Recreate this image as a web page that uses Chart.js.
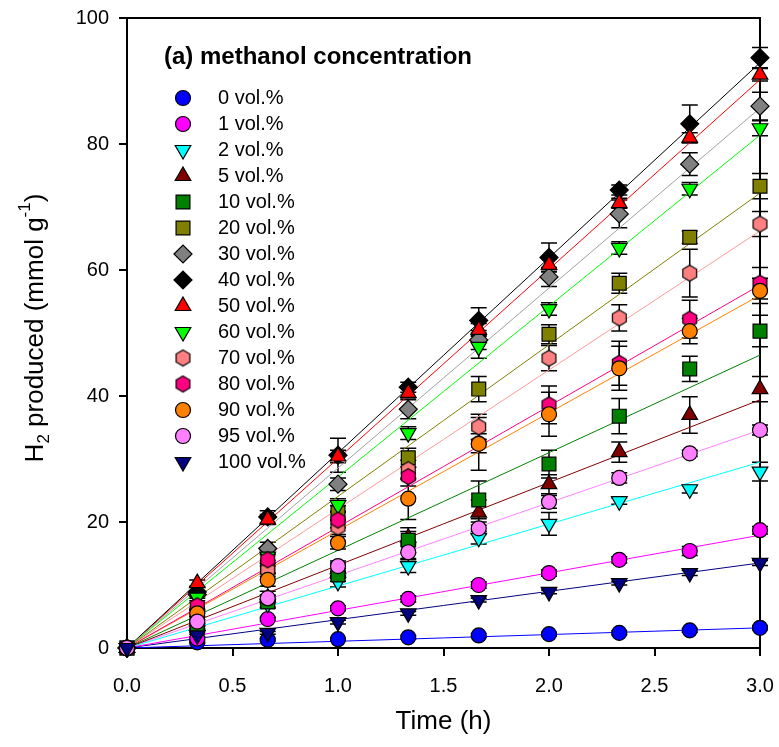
<!DOCTYPE html>
<html>
<head>
<meta charset="utf-8">
<script src="https://cdn.jsdelivr.net/npm/chart.js@4.4.0/dist/chart.umd.min.js"></script>
<style>
  body { margin: 0; background: #fff; }
  #wrap { width: 779px; height: 747px; }
</style>
</head>
<body>
<div id="wrap"><canvas id="myChart" width="779" height="747"></canvas></div>
<script>
const FONT = '"Liberation Sans", Arial, sans-serif';

// time (h)
const times = [0, 0.333, 0.667, 1, 1.333, 1.667, 2, 2.333, 2.667, 3];

const labels = ['0 vol.%', '1 vol.%', '2 vol.%', '5 vol.%', '10 vol.%', '20 vol.%', '30 vol.%',
  '40 vol.%', '50 vol.%', '60 vol.%', '70 vol.%', '80 vol.%', '90 vol.%', '95 vol.%', '100 vol.%'];

// H2 produced (mmol/g)
const h0   = [0, 0.9, 1.3, 1.4, 1.7, 2.0, 2.2, 2.4, 2.8, 3.2];
const h1   = [0, 1.5, 4.6, 6.3, 7.8, 10.0, 11.9, 14.0, 15.4, 18.7];
const h2   = [0, 2.8, 7.0, 10.5, 13.0, 17.5, 19.7, 23.3, 25.2, 28.0];
const h5   = [0, 3.5, 8.0, 12.5, 17.5, 21.5, 26.0, 31.1, 37.0, 41.1];
const h10  = [0, 3.3, 7.3, 11.6, 17.1, 23.5, 29.2, 36.8, 44.3, 50.3];
const h20  = [0, 5.5, 12.9, 21.4, 30.2, 41.1, 49.8, 57.9, 65.2, 73.3];
const h30  = [0, 8.5, 15.8, 26.0, 37.9, 48.9, 58.9, 68.9, 76.8, 86.0];
const h40  = [0, 8.9, 20.8, 30.6, 41.4, 52.0, 62.0, 72.7, 83.2, 93.7];
const h50  = [0, 10.3, 20.4, 30.4, 40.5, 50.5, 60.8, 70.6, 81.0, 91.0];
const h60  = [0, 8.0, 14.5, 22.7, 34.1, 47.8, 53.8, 63.5, 72.9, 82.5];
const h70  = [0, 5.0, 12.4, 19.2, 28.3, 35.1, 46.0, 52.4, 59.5, 67.3];
const h80  = [0, 6.7, 14.0, 20.3, 27.2, 32.5, 38.6, 45.2, 52.2, 57.9];
const h90  = [0, 5.5, 10.8, 16.7, 23.7, 32.4, 37.1, 44.4, 50.3, 56.7];
const h95  = [0, 4.2, 7.9, 13.0, 15.2, 19.0, 23.2, 27.0, 30.9, 34.6];
const h100 = [0, 2.0, 2.4, 4.1, 5.5, 7.6, 8.9, 10.3, 11.9, 13.5];

// error bars (+/-)
const e0   = [0, 0.2, 0.2, 0.2, 0.3, 0.3, 0.3, 0.3, 0.3, 0.3];
const e1   = [0, 0.2, 0.3, 0.4, 0.5, 0.5, 0.5, 0.5, 0.7, 0.6];
const e2   = [0, 0.3, 0.5, 0.8, 1.0, 1.0, 1.8, 0.5, 0.6, 1.5];
const e5   = [0, 0.5, 1.0, 1.0, 1.0, 2.0, 1.5, 1.6, 2.9, 2.0];
const e10  = [0, 0.5, 1.0, 1.0, 2.0, 3.0, 2.2, 2.8, 2.0, 2.5];
const e20  = [0, 0.5, 1.0, 1.2, 1.5, 2.0, 1.5, 1.6, 1.0, 2.0];
const e30  = [0, 0.6, 1.0, 1.0, 1.5, 1.5, 1.5, 2.2, 1.8, 2.2];
const e40  = [0, 0.8, 1.0, 2.7, 0.8, 2.0, 2.3, 0.8, 3.0, 1.6];
const e50  = [0, 0.5, 0.8, 1.0, 0.8, 1.0, 1.0, 0.8, 0.8, 1.0];
const e60  = [0, 0.5, 1.0, 1.0, 1.0, 1.8, 1.0, 1.0, 1.0, 1.2];
const e70  = [0, 0.5, 1.0, 1.2, 1.5, 2.0, 2.0, 2.1, 3.8, 2.0];
const e80  = [0, 0.5, 1.0, 1.2, 1.5, 1.5, 3.0, 3.5, 3.0, 2.5];
const e90  = [0, 0.5, 1.0, 1.0, 3.3, 4.2, 3.5, 3.5, 2.0, 2.0];
const e95  = [0, 0.3, 0.5, 0.8, 1.0, 1.0, 1.0, 0.8, 0.5, 0.8];
const e100 = [0, 0.2, 0.2, 0.3, 0.3, 0.3, 0.3, 0.3, 0.4, 0.4];

// linear fit lines: value at t = 0 and at t = 3 h
const fitStart = [0, 0, 0, 0, 0, 0, 0, 0, 0, 0, 0, 0, 0, 0, 0];
const fitEnd   = [3.2, 17.9, 29.5, 39.4, 46.5, 72.2, 85.7, 92.9, 90.2, 81.4, 66.2, 57.6, 56.0, 34.6, 13.5];

const values = [h0, h1, h2, h5, h10, h20, h30, h40, h50, h60, h70, h80, h90, h95, h100];
const errors = [e0, e1, e2, e5, e10, e20, e30, e40, e50, e60, e70, e80, e90, e95, e100];

const colors = ['#0000ff', '#ff00ff', '#00ffff', '#800000', '#008000', '#808000', '#808080',
  '#000000', '#ff0000', '#00ff00', '#ff8080', '#ff0080', '#ff8000', '#ff80ff', '#000080'];
const lineColors = ['#0000ff', '#ff00ff', '#00ffff', '#800000', '#008000', '#808000', '#a0a0a0',
  '#000000', '#ff0000', '#00ff00', '#ff9a9a', '#ff0080', '#ff8000', '#ff80ff', '#000080'];
const shapes = ['circle', 'circle', 'tridown', 'triangle', 'rect', 'rect', 'rectRot',
  'rectRot', 'triangle', 'tridown', 'hex', 'hex', 'circle', 'circle', 'tridown'];

function hexCanvas(color) {
  const r = 8;
  const s = 19;
  const c = document.createElement('canvas');
  c.width = s; c.height = s;
  const g = c.getContext('2d');
  g.beginPath();
  for (let k = 0; k < 6; k++) {
    const a = -Math.PI / 2 + k * Math.PI / 3;
    const px = s / 2 + r * Math.cos(a), py = s / 2 + r * Math.sin(a);
    if (k === 0) g.moveTo(px, py); else g.lineTo(px, py);
  }
  g.closePath();
  g.fillStyle = color;
  g.fill();
  g.lineWidth = 1.2;
  g.strokeStyle = '#000';
  g.stroke();
  return c;
}

function markerStyle(i) {
  const sh = shapes[i];
  if (sh === 'circle') return { pointStyle: 'circle', radius: 7.5, rotation: 0 };
  if (sh === 'rect') return { pointStyle: 'rect', radius: 9.8, rotation: 0 };
  if (sh === 'rectRot') return { pointStyle: 'rectRot', radius: 9, rotation: 0 };
  if (sh === 'triangle') return { pointStyle: 'triangle', radius: 9, rotation: 0 };
  if (sh === 'tridown') return { pointStyle: 'triangle', radius: 9, rotation: 180 };
  return { pointStyle: hexCanvas(colors[i]), radius: 8, rotation: 0 };
}

const datasets = [];
values.forEach((vals, i) => {
  const m = markerStyle(i);
  datasets.push({
    label: labels[i],
    data: vals.map((v, j) => ({ x: times[j], y: v })),
    showLine: false,
    pointStyle: m.pointStyle,
    pointRadius: m.radius,
    pointRotation: m.rotation,
    pointBackgroundColor: colors[i],
    pointBorderColor: '#000',
    pointBorderWidth: 1.2,
    errs: errors[i],
    isMarker: true,
    order: 20 - i,
    clip: false
  });
});
values.forEach((vals, i) => {
  datasets.push({
    label: 'fit ' + labels[i],
    data: [{ x: 0, y: fitStart[i] }, { x: 3, y: fitEnd[i] }],
    showLine: true,
    borderColor: lineColors[i],
    borderWidth: 1,
    pointRadius: 0,
    order: 100,
    clip: false
  });
});

const framePlugin = {
  id: 'frame',
  beforeDatasetsDraw(chart) {
    const { ctx, chartArea: a } = chart;
    ctx.save();
    ctx.strokeStyle = '#000';
    ctx.lineWidth = 2;
    ctx.strokeRect(a.left, a.top, a.right - a.left, a.bottom - a.top);
    // error bars, under the markers
    const ys = chart.scales.y;
    ctx.lineWidth = 1.5;
    chart.data.datasets.forEach((ds, di) => {
      if (!ds.isMarker) return;
      const meta = chart.getDatasetMeta(di);
      meta.data.forEach((pt, j) => {
        const e = ds.errs[j];
        if (!e) return;
        const v = ds.data[j].y;
        const y1 = ys.getPixelForValue(v + e);
        const y2 = ys.getPixelForValue(v - e);
        ctx.beginPath();
        ctx.moveTo(pt.x, y1); ctx.lineTo(pt.x, y2);
        ctx.moveTo(pt.x - 8, y1); ctx.lineTo(pt.x + 8, y1);
        ctx.moveTo(pt.x - 8, y2); ctx.lineTo(pt.x + 8, y2);
        ctx.stroke();
      });
    });
    ctx.restore();
  },
  afterDraw(chart) {
    const { ctx, chartArea: a } = chart;
    ctx.save();
    // title and legend
    ctx.fillStyle = '#000';
    ctx.textBaseline = 'middle';
    ctx.font = 'bold 24px ' + FONT;
    ctx.fillText('(a) methanol concentration', 164, 57);
    ctx.font = '20px ' + FONT;
    labels.forEach((lab, i) => {
      const y = 98 + 26 * i;
      const m = markerStyle(i);
      ctx.fillStyle = colors[i];
      ctx.strokeStyle = '#000';
      ctx.lineWidth = 1.2;
      Chart.helpers.drawPoint(ctx, { pointStyle: m.pointStyle, rotation: m.rotation, radius: m.radius, borderWidth: 1.2 }, 183, y);
      ctx.fillStyle = '#000';
      ctx.fillText(lab, 218, y);
    });
    // axis titles
    ctx.textAlign = 'center';
    ctx.font = '26px ' + FONT;
    ctx.fillText('Time (h)', (a.left + a.right) / 2, 722);

    ctx.translate(36, 328);
    ctx.rotate(-Math.PI / 2);
    const parts = [
      { t: 'H', f: 26, dy: 0 },
      { t: '2', f: 17, dy: 8 },
      { t: ' produced (mmol g', f: 26, dy: 0 },
      { t: '-1', f: 17, dy: -11 },
      { t: ')', f: 26, dy: 0 }
    ];
    let total = 0;
    parts.forEach(p => { ctx.font = p.f + 'px ' + FONT; p.w = ctx.measureText(p.t).width; total += p.w; });
    let x = -total / 2;
    ctx.textAlign = 'left';
    parts.forEach(p => {
      ctx.font = p.f + 'px ' + FONT;
      ctx.fillText(p.t, x, p.dy);
      x += p.w;
    });
    ctx.restore();
  }
};

const ctx = document.getElementById('myChart').getContext('2d');
const chart = new Chart(ctx, {
  type: 'scatter',
  data: { datasets: datasets },
  options: {
    responsive: false,
    animation: false,
    layout: { padding: { top: 18, right: 19, left: 0, bottom: 0 } },
    plugins: {
      legend: { display: false },
      tooltip: { enabled: false }
    },
    scales: {
      x: {
        type: 'linear',
        min: 0,
        max: 3,
        afterFit: s => { s.height = 99; s.paddingLeft = 0; s.paddingRight = 0; },
        ticks: {
          stepSize: 0.5,
          color: '#000',
          padding: 18,
          font: { family: FONT, size: 20 },
          callback: v => v.toFixed(1)
        },
        grid: { drawOnChartArea: false, drawTicks: true, tickLength: 8, color: '#000', lineWidth: 2 },
        border: { display: true, color: '#000', width: 2 }
      },
      y: {
        min: 0,
        max: 100,
        afterFit: s => { s.width = 127; s.paddingTop = 0; s.paddingBottom = 0; },
        ticks: {
          stepSize: 20,
          color: '#000',
          padding: 10,
          font: { family: FONT, size: 20 }
        },
        grid: { drawOnChartArea: false, drawTicks: true, tickLength: 8, color: '#000', lineWidth: 2 },
        border: { display: true, color: '#000', width: 2 }
      }
    }
  },
  plugins: [framePlugin]
});
</script>
</body>
</html>
